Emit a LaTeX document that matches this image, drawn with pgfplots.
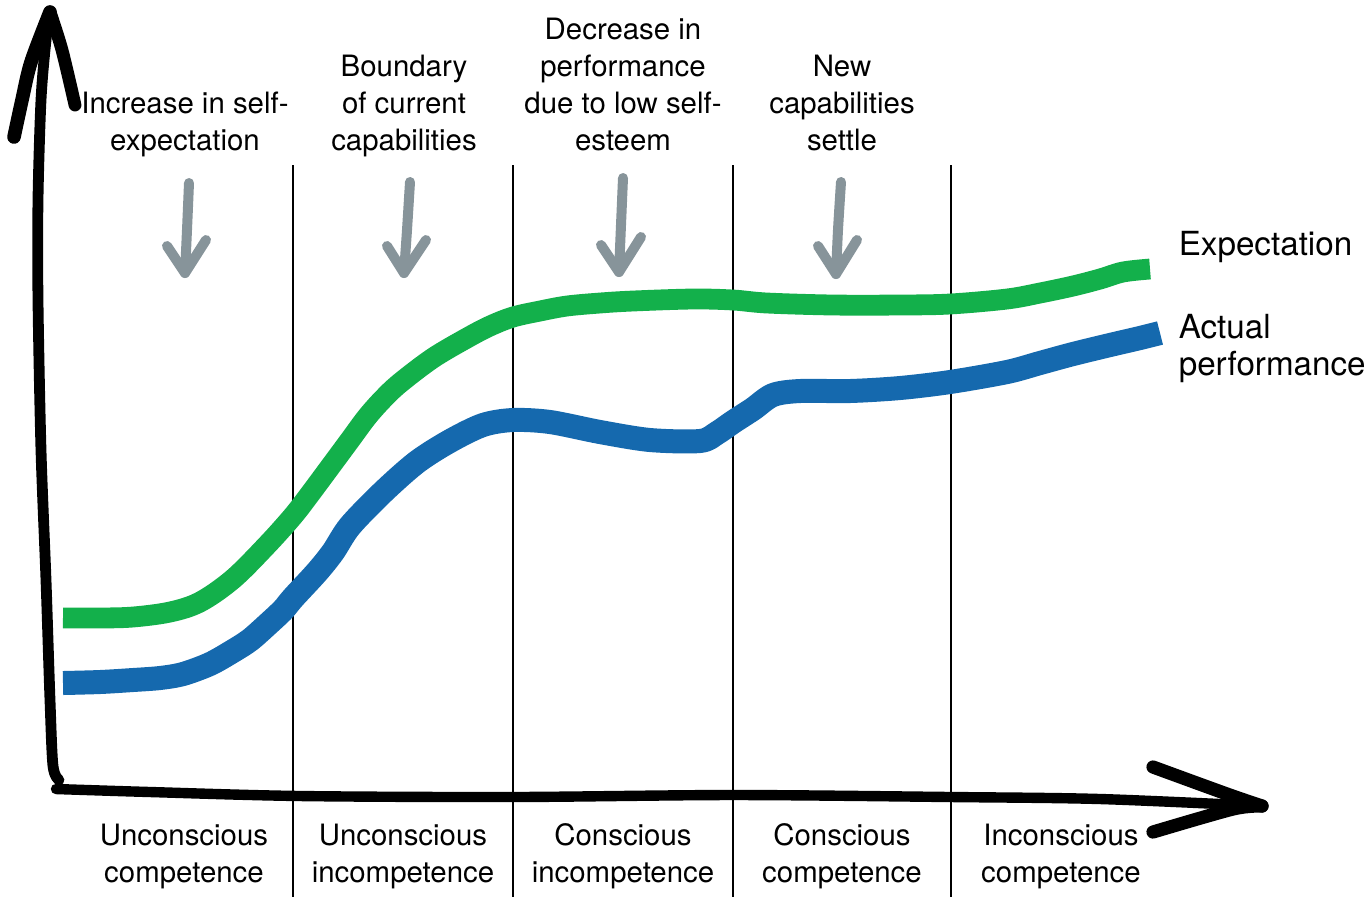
\documentclass[border=0pt]{standalone}
\usepackage{pgfplots}
\pgfplotsset{compat=1.18}
\usepackage{fontspec}
\setmainfont{TeX Gyre Heros}
\definecolor{expgreen}{HTML}{13B04B}
\definecolor{actblue}{HTML}{1569AE}
\definecolor{arrgray}{HTML}{87949A}
\begin{document}
\begin{tikzpicture}
\begin{axis}[width=342.5pt,height=225.75pt,scale only axis,
  xmin=0,xmax=1370,ymin=0,ymax=903,y dir=reverse,hide axis,clip=false]
% phase separators
\addplot[black,line width=0.5pt] coordinates {(293,165)(293,897)};
\addplot[black,line width=0.5pt] coordinates {(513,165)(513,897)};
\addplot[black,line width=0.5pt] coordinates {(733,165)(733,897)};
\addplot[black,line width=0.5pt] coordinates {(951,165)(951,897)};
% y axis
\addplot[black,line width=2.7pt,line cap=round,line join=round,smooth] coordinates {(59,780)(53,766)(50,700)(46,580)(41,450)(38,300)(38,200)(41,100)(46,40)(50,12)};
\addplot[black,line width=3.4pt,line cap=round,line join=round,smooth] coordinates {(14,137)(22,100)(31,62)(50,12)};
\addplot[black,line width=3.2pt,line cap=round,line join=round,smooth] coordinates {(50,12)(62,50)(75,105)};
% x axis
\addplot[black,line width=2.6pt,line cap=round,line join=round,smooth] coordinates {(56,789)(150,792)(300,796)(513,797)(733,795)(951,797)(1100,799)(1262,806)};
\addplot[black,line width=3.3pt,line cap=round,line join=round,smooth] coordinates {(1153,767)(1227,794)(1262,806)};
\addplot[black,line width=3.3pt,line cap=round,line join=round,smooth] coordinates {(1153,832)(1233,809)(1262,806)};
% gray arrows
\addplot[arrgray,line width=2.5pt,line cap=round,line join=round,smooth] coordinates {(189,183)(187,230)(185,273)};
\addplot[arrgray,line width=2.5pt,line cap=round,line join=round] coordinates {(167,246)(185,273)(206,240)};
\addplot[arrgray,line width=2.5pt,line cap=round,line join=round,smooth] coordinates {(410,182)(407,230)(404,273)};
\addplot[arrgray,line width=2.5pt,line cap=round,line join=round] coordinates {(387,246)(404,273)(426,240)};
\addplot[arrgray,line width=2.5pt,line cap=round,line join=round,smooth] coordinates {(623,178)(621,225)(619,272)};
\addplot[arrgray,line width=2.5pt,line cap=round,line join=round] coordinates {(601,245)(619,272)(641,237)};
\addplot[arrgray,line width=2.5pt,line cap=round,line join=round,smooth] coordinates {(841,182)(838,230)(836,274)};
\addplot[arrgray,line width=2.5pt,line cap=round,line join=round] coordinates {(818,246)(836,274)(857,240)};
% Expectation
\addplot[expgreen,line width=5.2pt,line join=round,smooth,tension=0.55] coordinates {
(63,618)(100,618)(133,617)(170,612)(200,602)(233,579)(267,545)(293,516)(310,494)(333,463)(350,440)(367,417)(383,399)(400,383)(433,358)(467,338)(490,326)(513,317)(540,311)(567,306)(600,303)(633,301)(693,299)(733,300)(767,303)(833,305)(900,305)(950,304)(1007,299)(1040,293)(1073,286)(1100,279)(1123,272)(1150,269)};
% Actual performance
\addplot[actblue,line width=6pt,line join=round,smooth,tension=0.5] coordinates {
(63,683)(100,682)(133,680)(160,678)(183,674)(210,664)(233,651)(250,640)(267,625)(283,610)(293,598)(317,572)(333,552)(350,526)(383,492)(417,462)(450,441)(483,425)(513,420)(550,422)(600,432)(650,440)(700,441)(717,433)(733,422)(753,409)(773,395)(800,391)(850,391)(900,388)(950,382)(1007,372)(1040,363)(1073,354)(1110,345)(1140,338)(1160,333)};
% top annotations
\begin{scope}[every node/.style={anchor=base,inner sep=0pt,font=\fontsize{7.35}{9}\selectfont}]
\node at (185,113) {Increase in self-};
\node at (185,150) {expectation};
\node at (404,76) {Boundary};
\node at (404,113) {of current};
\node at (404,150) {capabilities};
\node at (623,39) {Decrease in};
\node at (623,76) {performance};
\node at (623,113) {due to low self-};
\node at (623,150) {esteem};
\node at (842,76) {New};
\node at (842,113) {capabilities};
\node at (842,150) {settle};
% bottom labels
\node at (184,845) {Unconscious};
\node at (184,882) {competence};
\node at (403,845) {Unconscious};
\node at (403,882) {incompetence};
\node at (623,845) {Conscious};
\node at (623,882) {incompetence};
\node at (842,845) {Conscious};
\node at (842,882) {competence};
\node at (1061,845) {Inconscious};
\node at (1061,882) {competence};
\end{scope}
% series labels
\begin{scope}[every node/.style={anchor=base west,inner sep=0pt,font=\fontsize{8.3}{10}\selectfont}]
\node at (1178,255) {Expectation};
\node at (1178,338) {Actual};
\node at (1178,375) {performance};
\end{scope}
\end{axis}
\pgfresetboundingbox
\path (current axis.south west) rectangle (current axis.north east);
\end{tikzpicture}
\end{document}
